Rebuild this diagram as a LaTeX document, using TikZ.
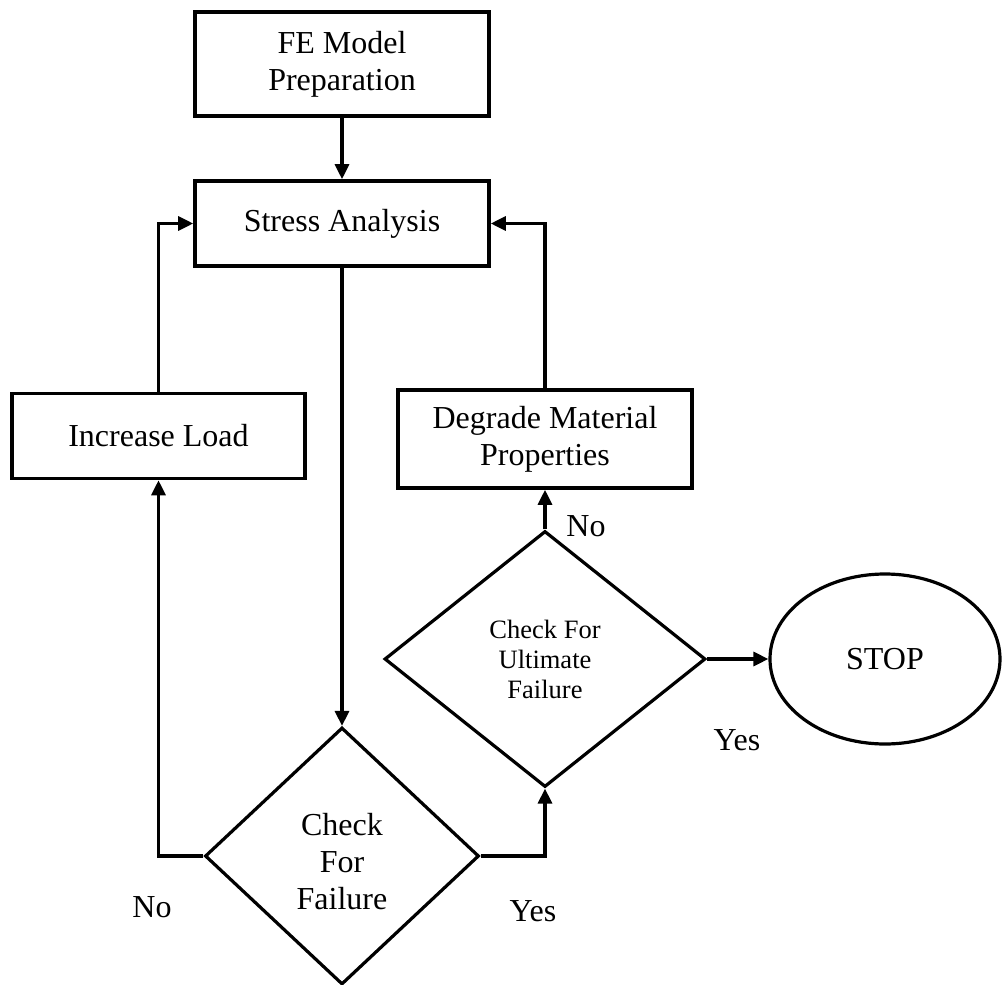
\documentclass[tikz,border=0pt]{standalone}
\usepackage{fontspec}
\setmainfont{Liberation Serif}
\usetikzlibrary{shapes.geometric,arrows.meta}
\begin{document}
\begin{tikzpicture}[x=1pt,y=-1pt,
  every node/.style={font=\fontsize{32}{37}\selectfont, align=center, inner sep=0pt},
  boxnode/.style={draw, line width=3.6pt, rectangle},
  decision/.style={draw, line width=3.2pt, diamond},
  terminal/.style={draw, line width=3.2pt, ellipse, minimum width=230pt, minimum height=170pt},
  arr/.style={line width=3.2pt, -{Triangle[length=15pt,width=14pt]}},
  lbl/.style={font=\fontsize{32}{37}\selectfont}]
\useasboundingbox (0,0) rectangle (1002,985);
\node[boxnode, minimum width=294pt, minimum height=104pt] (fe) at (342,64) {FE Model\\Preparation};
\node[boxnode, minimum width=294pt, minimum height=85pt] (sa) at (342,223.5) {Stress Analysis};
\node[boxnode, minimum width=293pt, minimum height=85pt] (inc) at (158.5,436) {Increase Load};
\node[boxnode, minimum width=294pt, minimum height=98pt] (deg) at (545,439) {Degrade Material\\Properties};
\node[decision, minimum width=321pt, minimum height=256pt, font=\fontsize{26.5}{30}\selectfont] (cu) at (545,659) {Check For\\Ultimate\\Failure};
\node[decision, minimum width=274pt, minimum height=257pt] (cf) at (342,856) {};
\node (cftext) at (342,862) {Check\\For\\Failure};
\node[terminal] (stop) at (885,659) {STOP};
\draw[arr] (fe.south) -- (sa.north);
\draw[arr] (inc.north) |- (sa.west);
\draw[arr] (deg.north) |- (sa.east);
\draw[arr] (sa.south) -- (cf.north);
\draw[arr] (cf.west) -| (inc.south);
\draw[arr] (cf.east) -| (cu.south);
\draw[arr] (cu.north) -- (deg.south);
\draw[arr] (cu.east) -- (stop.west);
\node[lbl] (no1) at (586,526) {No};
\node[lbl] (yes1) at (737,740) {Yes};
\node[lbl] (no2) at (152,907) {No};
\node[lbl] (yes2) at (533,911) {Yes};
\end{tikzpicture}
\end{document}
